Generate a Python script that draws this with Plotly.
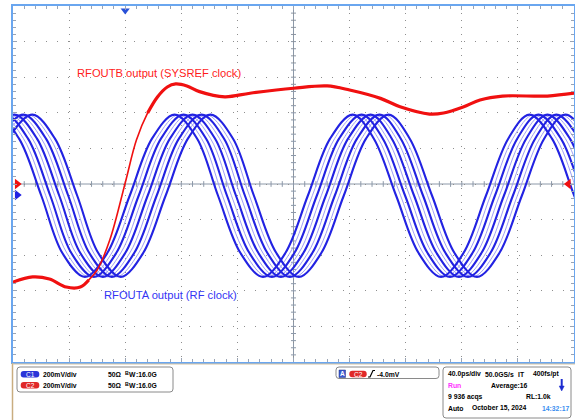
import plotly.graph_objects as go

# ---- waveform data (time in ps, amplitude in mV) ----
# RF clock (C1): one reference trace, the averaged acquisitions are shifted copies
t_rf = [-31, -16, 1, 17, 33, 48, 64, 80, 96, 112, 128, 144, 159, 175, 191,
        207, 223, 239, 255, 270, 286, 302, 318, 334, 350, 366, 381, 397, 413, 429]
v_rf = [-66, 256, 390, 256, -66, -388, -522, -388, -66, 256, 390, 256, -66, -388, -522,
        -388, -66, 256, 390, 256, -66, -388, -522, -388, -66, 256, 390, 256, -66, -388]
skew_bold = [-12.8, -6.4, 0.0, 6.4, 12.8]
skew_light = [-9.6, -3.2, 3.2, 9.6]

# SYSREF clock (C2)
t_sys = [0, 14, 26, 38, 48, 54, 60, 69, 80, 88, 96, 103, 110, 116, 124, 133, 151,
         169, 200, 224, 240, 262, 276, 297, 307, 321, 333, 349, 381, 401]
v_sys = [-551, -522, -534, -579, -579, -539, -483, -315, 6, 247, 399, 489, 545, 562,
         551, 519, 490, 510, 538, 551, 528, 481, 434, 393, 399, 433, 472, 494, 494, 511]

# channel offsets / trigger
c1_offset = -62
c2_offset = 0
trigger_t = 80

W, H = 575, 420
PX0, PX1, PY0, PY1 = 13, 574, 6, 362

BLUE = "#2222e2"
BLUE_LIGHT = "#a0a0f4"
RED = "#f01010"
FONT = "Liberation Sans"


def X(x):
    return x / W


def Y(y):
    return 1 - y / H


fig = go.Figure()

for d in skew_light:
    fig.add_trace(go.Scatter(x=[t + d for t in t_rf], y=v_rf, mode="lines",
                             line=dict(color=BLUE_LIGHT, width=1, shape="spline"),
                             hoverinfo="skip"))
for d in skew_bold:
    fig.add_trace(go.Scatter(x=[t + d for t in t_rf], y=v_rf, mode="lines",
                             line=dict(color=BLUE, width=2.1, shape="spline"),
                             hoverinfo="skip"))

# SYSREF: thin full trace, thick overlay on the slow parts
fig.add_trace(go.Scatter(x=t_sys, y=v_sys, mode="lines",
                         line=dict(color=RED, width=1.6, shape="spline"), hoverinfo="skip"))
fig.add_trace(go.Scatter(x=t_sys[:6], y=v_sys[:6], mode="lines",
                         line=dict(color=RED, width=3.2, shape="spline"), hoverinfo="skip"))
fig.add_trace(go.Scatter(x=t_sys[10:], y=v_sys[10:], mode="lines",
                         line=dict(color=RED, width=3.2, shape="spline"), hoverinfo="skip"))

# channel / trigger markers on the graticule edges
fig.add_trace(go.Scatter(x=[3], y=[c2_offset], mode="markers", cliponaxis=False,
                         marker=dict(symbol="triangle-right", size=9, color=RED)))
fig.add_trace(go.Scatter(x=[3], y=[c1_offset], mode="markers", cliponaxis=False,
                         marker=dict(symbol="triangle-right", size=9, color=BLUE)))
fig.add_trace(go.Scatter(x=[396], y=[c2_offset], mode="markers", cliponaxis=False,
                         marker=dict(symbol="triangle-left", size=9, color=RED)))
fig.add_trace(go.Scatter(x=[trigger_t], y=[975], mode="markers", cliponaxis=False,
                         marker=dict(symbol="triangle-down", size=8, color="#2850d8")))

shapes = []
# centre crosshair with minor ticks
shapes.append(dict(type="line", xref="x", yref="y", x0=200, x1=200, y0=-1000, y1=1000,
                   line=dict(color="#8c98a8", width=1), layer="below"))
shapes.append(dict(type="line", xref="x", yref="y", x0=0, x1=400, y0=0, y1=0,
                   line=dict(color="#8c98a8", width=1), layer="below"))
for k in range(1, 50):
    tx = k * 8
    shapes.append(dict(type="line", xref="x", yref="y", x0=tx, x1=tx, y0=-16, y1=16,
                       line=dict(color="#8c98a8", width=1), layer="below"))
for k in range(-24, 25):
    vy = k * 40
    if k == 0:
        continue
    shapes.append(dict(type="line", xref="x", yref="y", x0=198.2, x1=201.8, y0=vy, y1=vy,
                       line=dict(color="#8c98a8", width=1), layer="below"))


def rrect(x0, y0, x1, y1, r):
    return (f"M{X(x0 + r)},{Y(y0)} L{X(x1 - r)},{Y(y0)} Q{X(x1)},{Y(y0)} {X(x1)},{Y(y0 + r)} "
            f"L{X(x1)},{Y(y1 - r)} Q{X(x1)},{Y(y1)} {X(x1 - r)},{Y(y1)} "
            f"L{X(x0 + r)},{Y(y1)} Q{X(x0)},{Y(y1)} {X(x0)},{Y(y1 - r)} "
            f"L{X(x0)},{Y(y0 + r)} Q{X(x0)},{Y(y0)} {X(x0 + r)},{Y(y0)} Z")


# status panel frame
shapes.append(dict(type="line", xref="paper", yref="paper", x0=X(12.5), x1=X(12.5),
                   y0=Y(363), y1=Y(420), line=dict(color="#c9ad80", width=1.5)))
shapes.append(dict(type="line", xref="paper", yref="paper", x0=X(12.5), x1=X(575),
                   y0=Y(364), y1=Y(364), line=dict(color="#d8c4a0", width=1)))
for (a, b, c, d) in [(17, 367, 173, 392), (336, 367, 439, 378.5), (443, 367, 571, 418)]:
    shapes.append(dict(type="path", xref="paper", yref="paper", path=rrect(a, b, c, d, 3),
                       line=dict(color="#8a8a8a", width=1), fillcolor="white"))
# channel pills
for (yc, col) in [(374.3, "#2a35d8"), (385.2, "#e02828")]:
    shapes.append(dict(type="path", xref="paper", yref="paper",
                       path=rrect(20.7, yc - 3.2, 39.3, yc + 3.2, 3),
                       line=dict(width=0), fillcolor=col))
shapes.append(dict(type="path", xref="paper", yref="paper",
                   path=rrect(349.3, 370.8, 366.7, 377.2, 3), line=dict(width=0), fillcolor="#e02828"))
shapes.append(dict(type="rect", xref="paper", yref="paper", x0=X(339), x1=X(345.5),
                   y0=Y(377.5), y1=Y(370), line=dict(color="#1c2c80", width=0.5),
                   fillcolor="#3a5ad0"))
# rising-edge trigger glyph
shapes.append(dict(type="path", xref="paper", yref="paper",
                   path=f"M{X(368)},{Y(377)} L{X(370)},{Y(377)} L{X(373)},{Y(370.5)} L{X(375)},{Y(370.5)}",
                   line=dict(color="black", width=1.2)))
# acquisition-direction arrow
shapes.append(dict(type="line", xref="paper", yref="paper", x0=X(561.7), x1=X(561.7),
                   y0=Y(379), y1=Y(386.5), line=dict(color="#1c2cd0", width=2)))
shapes.append(dict(type="path", xref="paper", yref="paper",
                   path=f"M{X(559.2)},{Y(386)} L{X(564.2)},{Y(386)} L{X(561.7)},{Y(391)} Z",
                   line=dict(color="#1c2cd0", width=0.5), fillcolor="#1c2cd0"))

ann = []
ann.append(dict(text="RFOUTB output (SYSREF clock)", x=X(75), y=Y(73), xref="paper",
                yref="paper", xanchor="left", yanchor="middle", showarrow=False,
                font=dict(family=FONT, size=11.2, color="#ff1c1c")))
ann.append(dict(text="RFOUTA output (RF clock)", x=X(102), y=Y(295), xref="paper",
                yref="paper", xanchor="left", yanchor="middle", showarrow=False,
                font=dict(family=FONT, size=11.2, color="#3434f4")))


def label(txt, x, y, size=6.8, color="black", bold=True, anchor="left"):
    s = f"<b>{txt}</b>" if bold else txt
    ann.append(dict(text=s, x=X(x), y=Y(y), xref="paper", yref="paper",
                    xanchor=anchor, yanchor="middle", showarrow=False, borderpad=0,
                    font=dict(family=FONT, size=size, color=color)))


for yc, ch in [(374.3, "C1"), (385.2, "C2")]:
    label(ch, 30, yc, size=6.5, color="white", bold=False, anchor="center")
    label("200mV/div", 41.7, yc)
    label("50Ω", 106.7, yc)
    # bandwidth: small raised B followed by W
    label("B", 124.2, yc - 1.6, size=5.2)
    label("W", 128.4, yc + 0.6)
    label(":16.0G", 135.0, yc)

label("C2", 358, 374, size=6.5, color="white", bold=False, anchor="center")
label("A", 342.2, 373.8, size=6.5, color="white", anchor="center")
label("-4.0mV", 376, 374)

label("40.0ps/div", 446.7, 374.3)
label("50.0GS/s", 484.3, 374.3)
label("IT", 517.3, 374.3)
label("400fs/pt", 531.7, 374.3)
label("Run", 446.7, 385.5, color="#ff30ff")
label("Average:16", 490, 385.5)
label("9 936 acqs", 446.7, 396.5)
label("RL:1.0k", 525, 396.5)
label("Auto", 446.7, 408.3)
label("October 15, 2024", 470.7, 408.3)
label("14:32:17", 540.7, 408.3, color="#3a8ef0")

axis_common = dict(showticklabels=False, zeroline=False, showline=True,
                   linecolor="#6aa6ef", linewidth=2, mirror="allticks",
                   ticks="inside", ticklen=4, tickcolor="#9aa4b4", tickwidth=1,
                   gridcolor="#8e8e8e", gridwidth=1, showgrid=True, fixedrange=True)

fig.update_layout(
    width=W, height=H, autosize=False,
    margin=dict(l=0, r=0, t=0, b=0),
    paper_bgcolor="white", plot_bgcolor="white",
    showlegend=False,
    xaxis=dict(domain=[X(PX0), X(PX1)], range=[0, 400], dtick=40, tick0=0,
               griddash="1px,6px",
               minor=dict(dtick=8, ticks="inside", ticklen=3, tickcolor="#9aa4b4", showgrid=False),
               **axis_common),
    yaxis=dict(domain=[Y(PY1), Y(PY0)], range=[-1000, 1000], dtick=200, tick0=0,
               griddash="1px,10px",
               minor=dict(dtick=40, ticks="inside", ticklen=3, tickcolor="#9aa4b4", showgrid=False),
               **axis_common),
    shapes=shapes,
    annotations=ann,
)

fig.write_html("out.html")
